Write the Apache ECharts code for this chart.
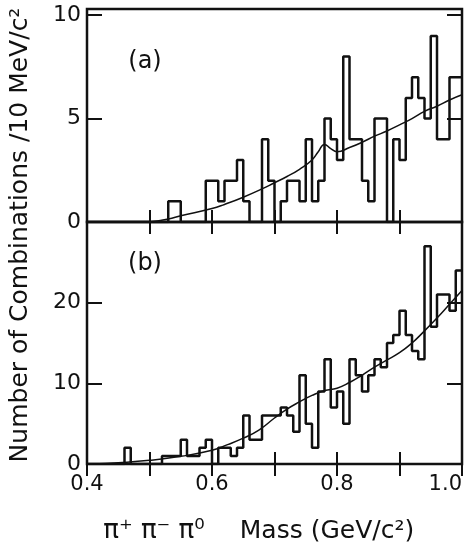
<!DOCTYPE html>
<html>
<head>
<meta charset="utf-8">
<script src="https://cdn.jsdelivr.net/npm/echarts@6/dist/echarts.min.js"></script>
<style>
  html, body { margin: 0; padding: 0; background: #fff; }
  #chart { width: 469px; height: 556px; }
</style>
</head>
<body>
<div id="chart"></div>
<script>
// 10 MeV bins, 0.40 -> 1.00 GeV
const binStart = 0.40
const binWidth = 0.01

// (a) counts per bin
const countsA = [
  0, 0, 0, 0, 0, 0, 0, 0, 0, 0,
  0, 0, 0, 1, 1, 0, 0, 0, 0, 2,
  2, 1, 2, 2, 3, 1, 0, 0, 4, 2,
  0, 1, 2, 2, 1, 4, 1, 2, 5, 4,
  3, 8, 4, 4, 2, 1, 5, 5, 0, 4,
  3, 6, 7, 6, 5, 9, 4, 4, 7, 7,
]
// (b) counts per bin
const countsB = [
  0, 0, 0, 0, 0, 0, 2, 0, 0, 0,
  0, 0, 1, 1, 1, 3, 1, 1, 2, 3,
  0, 2, 2, 1, 2, 6, 3, 3, 6, 6,
  6, 7, 6, 4, 11, 5, 2, 9, 13, 7,
  9, 5, 13, 11, 9, 11, 13, 12, 15, 16,
  19, 16, 14, 13, 27, 17, 21, 21, 19, 24,
]

// fitted curves
const curveMassA = [0.50, 0.53, 0.55, 0.60, 0.62, 0.65, 0.68, 0.70, 0.72, 0.74, 0.76, 0.77, 0.78, 0.79, 0.80, 0.82, 0.84, 0.86, 0.88, 0.90, 0.92, 0.94, 0.96, 0.98, 1.00]
const curveA = [0, 0.15, 0.3, 0.65, 0.85, 1.2, 1.6, 1.9, 2.2, 2.55, 3.0, 3.4, 3.75, 3.55, 3.4, 3.6, 3.85, 4.15, 4.4, 4.7, 5.0, 5.35, 5.6, 5.9, 6.15]
const curveMassB = [0.41, 0.45, 0.50, 0.55, 0.60, 0.625, 0.65, 0.675, 0.70, 0.72, 0.74, 0.76, 0.78, 0.80, 0.82, 0.84, 0.86, 0.88, 0.90, 0.92, 0.94, 0.96, 0.98, 1.00]
const curveB = [0, 0.15, 0.45, 0.95, 1.7, 2.4, 3.2, 4.2, 5.7, 6.8, 7.7, 8.5, 9.1, 9.4, 10.1, 11.0, 12.0, 12.9, 13.8, 15.0, 16.5, 18.1, 19.8, 21.5]

const massLabels = [0.4, 0.6, 0.8, 1.0]
const ticksA = [0, 5, 10]
const ticksB = [0, 10, 20]

const FONT = 'DejaVu Sans'
const ink = '#111'

function stepData(counts) {
  const pts = counts.map((c, i) => [+(binStart + i * binWidth).toFixed(2), c])
  pts.push([+(binStart + counts.length * binWidth).toFixed(2), counts[counts.length - 1]])
  return pts
}

function xAx(grid, pos, labels) {
  return {
    type: 'value', gridIndex: grid, position: pos,
    min: 0.4, max: 1.0, interval: 0.1,
    axisLine: { show: false },
    splitLine: { show: false },
    axisTick: { inside: true, length: 12, lineStyle: { color: ink, width: 2 } },
    axisLabel: {
      show: labels, color: ink, fontFamily: FONT, fontSize: 21, margin: 10,
      alignMaxLabel: 'right',
      formatter: v => massLabels.some(m => Math.abs(m - v) < 1e-6) ? v.toFixed(1) : '',
    },
  }
}

function yAx(grid, pos, max, step, ticks, labels) {
  return {
    type: 'value', gridIndex: grid, position: pos,
    min: 0, max: max, interval: step,
    axisLine: { show: false },
    splitLine: { show: false },
    axisTick: { inside: true, length: 15, lineStyle: { color: ink, width: 2 } },
    axisLabel: {
      show: labels, color: ink, fontFamily: FONT, fontSize: 22, margin: 6,
      formatter: v => ticks.includes(v) ? String(v) : '',
    },
  }
}

const chart = echarts.init(document.getElementById('chart'))
chart.setOption({
  backgroundColor: '#fff',
  animation: false,
  grid: [
    { left: 87, right: 7, top: 9, height: 213, show: true, borderColor: ink, borderWidth: 2.5, outerBoundsMode: 'none' },
    { left: 87, right: 7, top: 222, height: 242, show: true, borderColor: ink, borderWidth: 2.5, outerBoundsMode: 'none' },
  ],
  xAxis: [
    xAx(0, 'bottom', false), xAx(0, 'top', false),
    xAx(1, 'bottom', true), xAx(1, 'top', false),
  ],
  yAxis: [
    yAx(0, 'left', 10.3, 5, ticksA, true), yAx(0, 'right', 10.3, 5, ticksA, false),
    yAx(1, 'left', 30, 10, ticksB, true), yAx(1, 'right', 30, 10, ticksB, false),
  ],
  series: [
    {
      type: 'line', xAxisIndex: 0, yAxisIndex: 0, step: 'end', symbol: 'none',
      data: stepData(countsA), lineStyle: { color: ink, width: 2.5 },
    },
    {
      type: 'line', xAxisIndex: 0, yAxisIndex: 0, smooth: true, symbol: 'none',
      data: curveMassA.map((m, i) => [m, curveA[i]]), lineStyle: { color: ink, width: 1.5 },
    },
    {
      type: 'line', xAxisIndex: 2, yAxisIndex: 2, step: 'end', symbol: 'none',
      data: stepData(countsB), lineStyle: { color: ink, width: 2.5 },
    },
    {
      type: 'line', xAxisIndex: 2, yAxisIndex: 2, smooth: true, symbol: 'none',
      data: curveMassB.map((m, i) => [m, curveB[i]]), lineStyle: { color: ink, width: 1.5 },
    },
  ],
  graphic: [
    {
      type: 'text', x: 20, y: 235, rotation: Math.PI / 2,
      style: { text: 'Number of Combinations /10 MeV/c²', fill: ink, font: '25px "DejaVu Sans"', align: 'center', verticalAlign: 'middle' },
    },
    {
      type: 'text', x: 154, y: 531,
      style: { text: 'π⁺ π⁻ π⁰', fill: ink, font: '26px "DejaVu Sans"', align: 'center', verticalAlign: 'middle' },
    },
    {
      type: 'text', x: 327, y: 531,
      style: { text: 'Mass (GeV/c²)', fill: ink, font: '25px "DejaVu Sans"', align: 'center', verticalAlign: 'middle' },
    },
    {
      type: 'text', x: 145, y: 62,
      style: { text: '(a)', fill: ink, font: '24px "DejaVu Sans"', align: 'center', verticalAlign: 'middle' },
    },
    {
      type: 'text', x: 145, y: 264,
      style: { text: '(b)', fill: ink, font: '24px "DejaVu Sans"', align: 'center', verticalAlign: 'middle' },
    },
  ],
})
</script>
</body>
</html>
